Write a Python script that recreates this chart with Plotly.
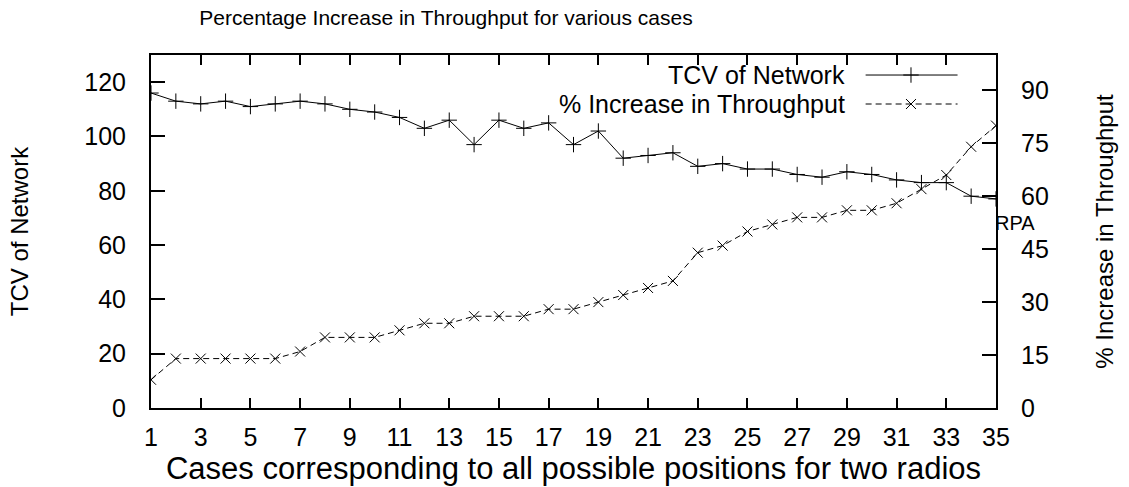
import plotly.graph_objects as go

# Case numbers (x axis)
cases = list(range(1, 36))

# TCV of Network (left axis)
tcv = [116, 113, 112, 113, 111, 112, 113, 112, 110, 109,
       107, 103, 106, 97, 106, 103, 105, 97, 102, 92,
       93, 94, 89, 90, 88, 88, 86, 85, 87, 86,
       84, 83, 83, 78, 77]

# % Increase in Throughput (right axis)
pct_increase = [8, 14, 14, 14, 14, 14, 16, 20, 20, 20,
                22, 24, 24, 26, 26, 26, 28, 28, 30, 32,
                34, 36, 44, 46, 50, 52, 54, 54, 56, 56,
                58, 62, 66, 74, 80]

series_names = ["TCV of Network", "% Increase in Throughput"]
x_tickvals = list(range(1, 36, 2))
y_tickvals = list(range(0, 121, 20))
y2_tickvals = list(range(0, 91, 15))

FONT = "Liberation Sans, Arial, sans-serif"
BLACK = "#000000"
TICK_SIZE = 25

fig = go.Figure()

fig.add_trace(go.Scatter(
    x=cases, y=tcv, mode="lines+markers", name=series_names[0],
    line=dict(color=BLACK, width=1),
    marker=dict(symbol="cross-thin", size=11, line=dict(color=BLACK, width=1)),
    showlegend=False,
))
fig.add_trace(go.Scatter(
    x=cases, y=pct_increase, mode="lines+markers", name=series_names[1],
    yaxis="y2",
    line=dict(color=BLACK, width=1, dash="6px,4px"),
    marker=dict(symbol="x-thin", size=10, line=dict(color=BLACK, width=1)),
    showlegend=False,
))

# Key samples drawn on a unit overlay axis, to the right of the key text
key_x = [0.8457, 0.8994, 0.9545]
key_rows = [0.9433, 0.8612]
key_styles = [("solid", "cross-thin", 11), ("6px,4px", "x-thin", 10)]
for row_y, (dash, sym, size) in zip(key_rows, key_styles):
    fig.add_trace(go.Scatter(
        x=key_x, y=[row_y] * 3, mode="lines", xaxis="x3", yaxis="y3",
        line=dict(color=BLACK, width=1, dash=dash), showlegend=False,
        hoverinfo="skip",
    ))
    fig.add_trace(go.Scatter(
        x=[key_x[1]], y=[row_y], mode="markers", xaxis="x3", yaxis="y3",
        marker=dict(symbol=sym, size=size, line=dict(color=BLACK, width=1)),
        showlegend=False, hoverinfo="skip",
    ))

annotations = []
for name, row_y in zip(series_names, key_rows):
    annotations.append(dict(
        text=name, xref="paper", yref="paper", x=0.8237, y=row_y,
        xanchor="right", yanchor="middle", showarrow=False,
        font=dict(family=FONT, size=25, color=BLACK),
    ))
annotations.append(dict(
    text="RPA", xref="paper", yref="y2", x=1.0, y=52.4,
    xanchor="left", yanchor="middle", showarrow=False, xshift=-3,
    font=dict(family=FONT, size=20, color=BLACK),
))

axis_common = dict(
    showgrid=False, zeroline=False, showline=True, linecolor=BLACK,
    linewidth=2, ticks="inside", tickcolor=BLACK, tickwidth=2,
    tickfont=dict(family=FONT, size=TICK_SIZE, color=BLACK),
)

fig.update_layout(
    width=1129, height=487,
    margin=dict(l=151, r=133, t=55, b=79),
    paper_bgcolor="white", plot_bgcolor="white",
    title=dict(
        text="Percentage Increase in Throughput for various cases",
        x=446 / 1129, xanchor="center", xref="container",
        y=1 - 18 / 487, yanchor="middle", yref="container",
        font=dict(family=FONT, size=21, color=BLACK),
    ),
    xaxis=dict(
        **axis_common, range=[1, 35], tickvals=x_tickvals, ticklen=10,
        mirror="ticks", ticklabelstandoff=6, automargin=False,
        title=dict(text="Cases corresponding to all possible positions for two radios",
                   font=dict(family=FONT, size=31, color=BLACK), standoff=3),
    ),
    yaxis=dict(
        **axis_common, range=[0, 130], tickvals=y_tickvals, ticklen=14,
        mirror=True, ticklabelstandoff=18, automargin=False,
        title=dict(text="TCV of Network",
                   font=dict(family=FONT, size=24, color=BLACK), standoff=49),
    ),
    yaxis2=dict(
        **axis_common, range=[0, 100], tickvals=y2_tickvals, ticklen=14,
        overlaying="y", side="right", ticklabelstandoff=18, automargin=False,
        title=dict(text="% Increase in Throughput",
                   font=dict(family=FONT, size=24, color=BLACK), standoff=48),
    ),
    xaxis3=dict(range=[0, 1], overlaying="x", visible=False),
    yaxis3=dict(range=[0, 1], overlaying="y", visible=False),
    annotations=annotations,
    showlegend=False,
)

fig.write_html("out.html")
